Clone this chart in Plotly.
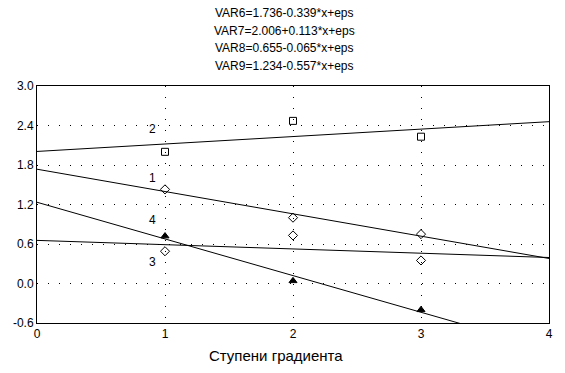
import numpy as np
import plotly.graph_objects as go

# Data
x_steps = [1, 2, 3]
var6 = [1.43, 1.00, 0.75]
var7 = [2.00, 2.47, 2.23]
var8 = [0.49, 0.73, 0.35]
var9 = [0.72, 0.04, -0.40]

series_names = ["VAR6", "VAR7", "VAR8", "VAR9"]
series_labels = ["1", "2", "3", "4"]
intercepts = [1.736, 2.006, 0.655, 1.234]
slopes = [-0.339, 0.113, -0.065, -0.557]
label_pos_y = [1.61, 2.34, 0.32, 0.96]

x_ticks = [0, 1, 2, 3, 4]
y_ticks = [-0.6, 0.0, 0.6, 1.2, 1.8, 2.4, 3.0]

fig = go.Figure()

line_x = np.array([0.0, 4.0])
for b0, b1 in zip(intercepts, slopes):
    fig.add_trace(go.Scatter(x=line_x, y=b0 + b1 * line_x, mode="lines",
                             line=dict(color="black", width=1), showlegend=False,
                             hoverinfo="skip"))

symbols = ["diamond-open", "square-open", "diamond-open", "triangle-up"]
for vals, sym in zip([var6, var7, var8, var9], symbols):
    fig.add_trace(go.Scatter(x=x_steps, y=vals, mode="markers",
                             marker=dict(symbol=sym, size=7, color="black",
                                         line=dict(color="black", width=1)),
                             showlegend=False))

annotations = []
for lab, ly in zip(series_labels, label_pos_y):
    annotations.append(dict(x=0.9, y=ly, xref="x", yref="y", text=lab, showarrow=False,
                            font=dict(family="Liberation Sans, Arial", size=12, color="black")))

title_lines = [f"{n}={b0:.3f}{'+' if b1 >= 0 else '-'}{abs(b1):.3f}*x+eps"
               for n, b0, b1 in zip(series_names, intercepts, slopes)]
title_y = [1.308, 1.232, 1.160, 1.084]
for t, ty in zip(title_lines, title_y):
    annotations.append(dict(x=0.484, y=ty, xref="paper", yref="paper", text=t,
                            showarrow=False, yanchor="middle",
                            font=dict(family="Liberation Sans, Arial", size=12, color="black")))

annotations.append(dict(x=0.467, y=-0.139, xref="paper", yref="paper", text="Ступени градиента",
                        showarrow=False, yanchor="middle",
                        font=dict(family="Liberation Sans, Arial", size=15, color="black")))

fig.update_layout(
    width=565, height=373,
    margin=dict(l=37, r=16, t=86, b=50),
    paper_bgcolor="white", plot_bgcolor="white",
    font=dict(family="Liberation Sans, Arial", size=12, color="black"),
    annotations=annotations,
    showlegend=False,
)
fig.update_xaxes(range=[0, 4], tickvals=x_ticks, ticktext=[str(v) for v in x_ticks],
                 showline=True, linecolor="black", linewidth=1, mirror=True,
                 showgrid=True, gridcolor="black", gridwidth=1, griddash="1px,10px",
                 zeroline=False, ticks="", tickfont=dict(size=12), automargin=False)
fig.update_yaxes(range=[-0.6, 3.0], tickvals=y_ticks, ticktext=[f"{v:.1f}" for v in y_ticks],
                 showline=True, linecolor="black", linewidth=1, mirror=True,
                 showgrid=True, gridcolor="black", gridwidth=1, griddash="1px,10px",
                 zeroline=False, ticks="", tickfont=dict(size=12), automargin=False)

fig.write_html("out.html", config={"displayModeBar": False},
               post_script="document.body.style.margin='0';document.body.style.padding='0';")
